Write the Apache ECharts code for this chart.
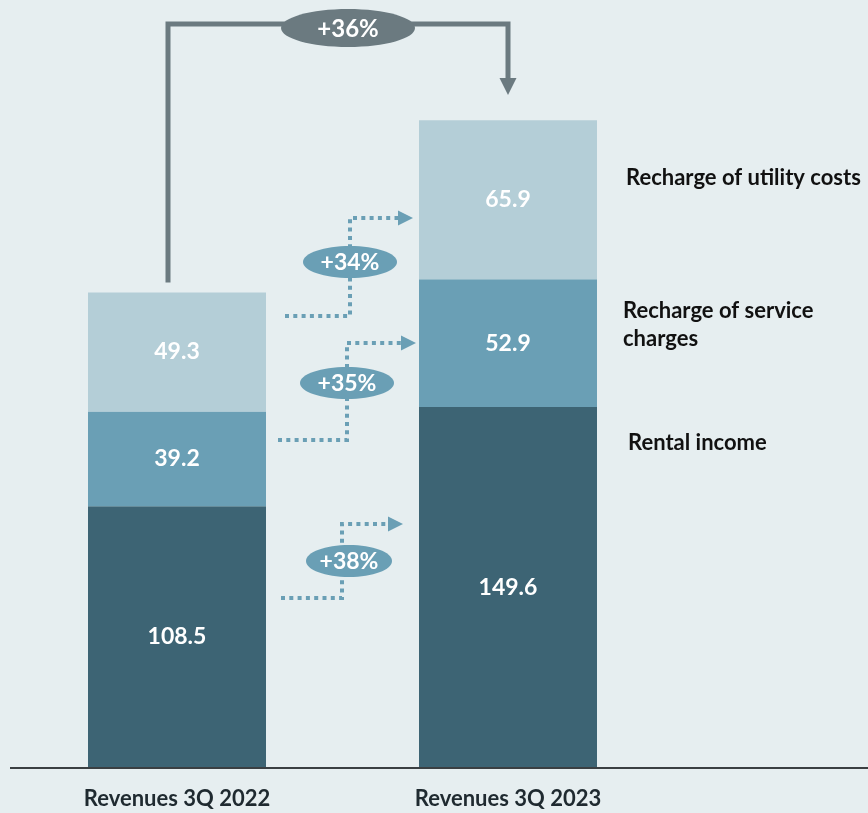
<!DOCTYPE html>
<html><head><meta charset="utf-8">
<script src="https://cdn.jsdelivr.net/npm/echarts@6/dist/echarts.min.js"></script>
<style>html,body{margin:0;padding:0;background:#e6eef0;}#c{width:868px;height:813px;}</style>
</head><body><div id="c"></div>
<script>
const categories = ['Revenues 3Q 2022', 'Revenues 3Q 2023'];
const seriesNames = ['Rental income', 'Recharge of service charges', 'Recharge of utility costs'];
const rentalIncome = [108.5, 149.6];
const serviceCharges = [39.2, 52.9];
const utilityCosts = [49.3, 65.9];
const growthLabels = ['+38%', '+35%', '+34%'];
const totalGrowthLabel = '+36%';
const colors = ['#3d6474', '#6a9fb5', '#b4ced7'];

const FONT = 'Lato, "Open Sans", sans-serif';
const chart = echarts.init(document.getElementById('c'), null, {renderer: 'canvas'});

function mkSeries(name, data, color) {
  return {
    name: name, type: 'bar', stack: 'rev', data: data, barWidth: 178,
    itemStyle: {color: color},
    label: {show: true, position: 'inside', color: '#ffffff', fontFamily: FONT,
      fontWeight: 'bold', fontSize: 23, formatter: p => p.value.toFixed(1)},
    emphasis: {disabled: true}
  };
}

chart.setOption({
  backgroundColor: '#e6eef0',
  animation: false,
  grid: {left: 11.5, width: 662, top: 44, bottom: 45, containLabel: false},
  xAxis: {type: 'category', data: categories, boundaryGap: true,
    axisLine: {show: false}, axisTick: {show: false},
    axisLabel: {color: '#1f2a30', fontFamily: FONT, fontWeight: 'bold', fontSize: 22, margin: 20}},
  yAxis: {type: 'value', min: 0, max: 300, show: false, splitLine: {show: false}},
  series: [
    mkSeries(seriesNames[0], rentalIncome, colors[0]),
    mkSeries(seriesNames[1], serviceCharges, colors[1]),
    mkSeries(seriesNames[2], utilityCosts, colors[2])
  ]
});

function px(ci, v) { return chart.convertToPixel({gridIndex: 0}, [ci, v]); }
const base = px(0, 0);
const b1 = px(0, 0)[0], b2 = px(1, 0)[0];
const halfW = 89;
const total1 = rentalIncome[0] + serviceCharges[0] + utilityCosts[0];
const top1 = px(0, total1)[1];

const g = [];
// baseline
g.push({type: 'line', shape: {x1: 10, y1: base[1], x2: 868, y2: base[1]},
  style: {stroke: '#3a3f42', lineWidth: 2}, z: 10});

// total growth arrow
const gray = '#6b7a80';
const bx1 = b1 - 9, bx2 = b2, topY = 24;
g.push({type: 'polyline', shape: {points: [[bx1, top1 - 10], [bx1, topY], [bx2, topY], [bx2, 80]]},
  style: {stroke: gray, lineWidth: 5, fill: null}, z: 5});
g.push({type: 'polygon', shape: {points: [[bx2 - 8.5, 78], [bx2 + 8.5, 78], [bx2, 95]]},
  style: {fill: gray}, z: 5});
g.push({type: 'ellipse', shape: {cx: 348, cy: 28, rx: 67, ry: 19},
  style: {fill: gray}, z: 6});
g.push({type: 'text', x: 348, y: 29,
  style: {text: totalGrowthLabel, fill: '#fff', font: 'bold 24px ' + FONT, align: 'center', verticalAlign: 'middle'}, z: 7});

// dotted growth arrows: [startX, bottomY, verticalX, topY, tipX, ellipseCx, ellipseCy, rx]
const arrows = [
  [281, 598, 342, 524, 403, 349, 561, 43],
  [278, 440, 347, 343, 416, 347, 383, 47],
  [285, 316, 350, 218, 413, 350, 262, 47]
];
const blue = '#6a9fb5';
arrows.forEach((a, i) => {
  g.push({type: 'polyline', shape: {points: [[a[0], a[1]], [a[2], a[1]], [a[2], a[3]], [a[4] - 14, a[3]]]},
    style: {stroke: blue, lineWidth: 4, lineDash: [4, 4.3], fill: null}, z: 5});
  g.push({type: 'polygon', shape: {points: [[a[4] - 15, a[3] - 7.5], [a[4] - 15, a[3] + 7.5], [a[4], a[3]]]},
    style: {fill: blue}, z: 5});
  g.push({type: 'ellipse', shape: {cx: a[5], cy: a[6], rx: a[7], ry: 16},
    style: {fill: blue}, z: 6});
  g.push({type: 'text', x: a[5], y: a[6] + 1,
    style: {text: growthLabels[i], fill: '#fff', font: 'bold 23px ' + FONT, align: 'center', verticalAlign: 'middle'}, z: 7});
});

// series name labels at right
const nameX = b2 + halfW + 29;
const names = [
  ['Recharge of utility costs', nameX, 178],
  ['Recharge of service\ncharges', nameX - 3, 325],
  ['Rental income', nameX + 2, 443]
];
names.forEach(n => {
  g.push({type: 'text', x: n[1], y: n[2],
    style: {text: n[0], fill: '#111', font: 'bold 22px ' + FONT, lineHeight: 28, align: 'left', verticalAlign: 'middle'}, z: 7});
});

chart.setOption({graphic: g});
</script></body></html>
